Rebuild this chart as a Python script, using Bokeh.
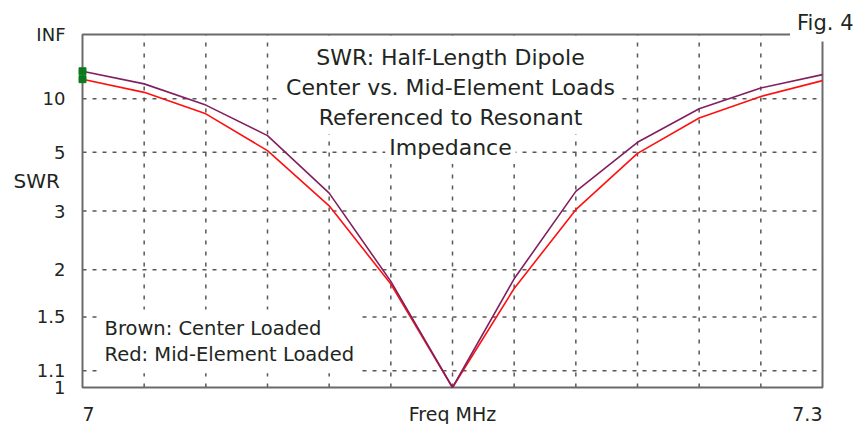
import math
from bokeh.plotting import figure
from bokeh.models import Range1d, Label
from bokeh.core.properties import value
from bokeh.embed import file_html
from bokeh.resources import INLINE

# ---- data ----
freq_mhz = [7.000, 7.025, 7.050, 7.075, 7.100, 7.125, 7.150,
            7.175, 7.200, 7.225, 7.250, 7.275, 7.300]
swr_center_loaded = [18.2, 13.3, 9.0, 5.98, 3.45, 1.86, 1.0,
                     1.89, 3.5, 5.55, 8.5, 12.2, 16.6]
swr_mid_element_loaded = [14.8, 11.2, 7.9, 5.08, 3.12, 1.83, 1.0,
                          1.78, 3.03, 4.94, 7.46, 10.4, 14.3]

swr_tick_values = [1, 1.1, 1.5, 2, 3, 5, 10, math.inf]
swr_tick_labels = ["1", "1.1", "1.5", "2", "3", "5", "10", "INF"]
x_tick_values = [7.0, 7.15, 7.3]
x_tick_labels = ["7", "Freq MHz", "7.3"]
x_tick_aligns = ["left", "center", "right"]

title_lines = ["SWR: Half-Length Dipole", "Center vs. Mid-Element Loads",
               "Referenced to Resonant", "Impedance"]
legend_lines = ["Brown: Center Loaded", "Red: Mid-Element Loaded"]
fig_label = "Fig. 4"
y_axis_label = "SWR"


def rho(s):
    """Reflection-coefficient scale used by the SWR axis."""
    return 1.0 if math.isinf(s) else (s - 1.0) / (s + 1.0)


W, H = 857, 424
FL, FR, FT, FB = 82, 822, 34, 387   # plot-box edges in page pixels
FONT = "DejaVu Sans"
TXT = "#1e2622"
GRID = "#585858"

f0, f1 = freq_mhz[0], freq_mhz[-1]
r0, r1 = rho(swr_tick_values[0]), rho(swr_tick_values[-1])
dx = (f1 - f0) / (FR - FL)
dy = (r1 - r0) / (FB - FT)

p = figure(width=W, height=H, output_backend="svg", toolbar_location=None,
           x_range=Range1d(f0 - FL * dx, f1 + (W - FR) * dx),
           y_range=Range1d(r0 - (H - FB) * dy, r1 + FT * dy),
           min_border=0)
p.axis.visible = False
p.grid.visible = False
p.outline_line_color = None
p.background_fill_color = "white"
p.border_fill_color = "white"

rho_ticks = [rho(s) for s in swr_tick_values]

# grid (dashed) inside the plot box
grid_f = freq_mhz[1:-1]
p.segment(x0=grid_f, y0=[r0] * len(grid_f), x1=grid_f, y1=[r1] * len(grid_f),
          line_color=GRID, line_width=1.5, line_dash="4 7")
grid_r = rho_ticks[1:-1]
p.segment(x0=[f0] * len(grid_r), y0=grid_r, x1=[f1] * len(grid_r), y1=grid_r,
          line_color=GRID, line_width=1.5, line_dash="4 6")

# plot box
p.quad(left=[f0], right=[f1], bottom=[r0], top=[r1], fill_color=None,
       line_color="#6a6a6a", line_width=2)

# curves
rho_center = [rho(s) for s in swr_center_loaded]
rho_mid = [rho(s) for s in swr_mid_element_loaded]
p.line(freq_mhz, rho_mid, line_color="#ff1010", line_width=1.6)
p.line(freq_mhz, rho_center, line_color="#82205f", line_width=1.6)
p.scatter([f0, f0], [rho_center[0], rho_mid[0]],
          marker="square", size=7, fill_color="#0b7a1e", line_color="#0b7a1e")

# y tick labels
p.text(x=[f0] * len(rho_ticks), y=rho_ticks, text=swr_tick_labels,
       x_offset=-17, text_align="right", text_baseline="middle",
       text_font=value(FONT), text_font_size="18px", text_color=TXT)

# x labels
for v, lab, al in zip(x_tick_values, x_tick_labels, x_tick_aligns):
    p.text(x=[v], y=[r0], text=[lab], y_offset=26, text_align=al,
           text_baseline="middle", text_font=value(FONT),
           text_font_size="19px", text_color=TXT)


def sx(px):
    return px


def sy(py):
    return H - py


# y axis name
p.add_layout(Label(x=sx(13), y=sy(180), x_units="screen", y_units="screen",
                   text=y_axis_label, text_align="left", text_baseline="middle",
                   text_font=FONT, text_font_size="20px", text_color=TXT))

# title lines
for i, line in enumerate(title_lines):
    p.add_layout(Label(x=sx(450), y=sy(57 + 30 * i), x_units="screen",
                       y_units="screen", text=line, text_align="center",
                       text_baseline="middle", text_font=FONT,
                       text_font_size="22px", text_color=TXT,
                       background_fill_color="white", padding=4))

# legend
p.add_layout(Label(x=sx(97), y=sy(309), x_units="screen", y_units="screen",
                   text="\n".join(legend_lines), text_align="left",
                   text_baseline="top", text_font=FONT, text_font_size="19.5px",
                   text_line_height=1.16, text_color=TXT,
                   background_fill_color="white", padding=7))

# figure number
p.add_layout(Label(x=sx(860), y=sy(22), x_units="screen", y_units="screen",
                   text=fig_label, text_align="right", text_baseline="middle",
                   text_font=FONT, text_font_size="21px", text_color=TXT,
                   background_fill_color="white", padding=7))

open("out.html", "w").write(file_html(p, INLINE))
